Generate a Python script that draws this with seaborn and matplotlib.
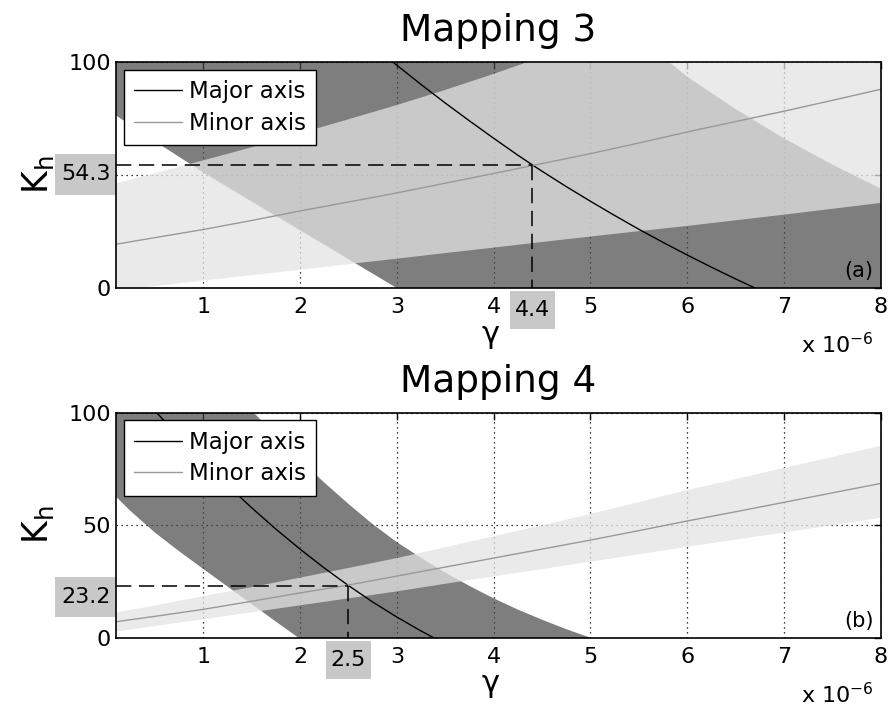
import matplotlib

matplotlib.use("Agg")

import matplotlib.pyplot as plt
import matplotlib.transforms as mtransforms
import seaborn as sns
from matplotlib.patches import Rectangle


# gamma axis, in units of 1e-6
GAMMA = [0.1, 0.5, 1, 1.5, 2, 2.5, 3, 3.5, 4, 4.5, 5, 5.5, 6, 6.5, 7, 7.5, 8]

# Mapping 3 bands
M3_MINOR_MID = [19.4, 22.3, 25.9, 29.9, 34.1, 38.1, 42.1, 46.4, 50.7, 55.1, 59.5, 64.2, 69.1, 73.7, 78.3, 83.1, 88.0]
M3_MINOR_HI = [46.3, 50.8, 56.5, 62.3, 68.5, 74.7, 81.0, 87.7, 94.8, 102.3, 110, 118, 126, 134.5, 143, 152, 161]
M3_MINOR_LO = [-1.2, 0.8, 3.3, 5.7, 8.1, 10.6, 13.0, 15.5, 17.9, 20.4, 22.8, 25.2, 27.5, 30.0, 32.5, 35.1, 37.7]
M3_MAJOR_HI_X = GAMMA
M3_MAJOR_HI = [450, 408, 362, 322, 285, 252, 222, 195, 170, 148, 129, 111, 93.5, 79.2, 66.2, 54.6, 44.0]
M3_MAJOR_LO_X = GAMMA
M3_MAJOR_LO = [76.4, 65.0, 51.2, 38.3, 25.6, 12.8, 0.0, -12.8, -25.6, -38.4, -51.2, -64, -76.8, -89.6, -102.4, -115.2, -128]
M3_MAJOR_X = [2.96, 3.25, 3.5, 3.75, 4, 4.25, 4.4, 4.5, 4.75, 5, 5.25, 5.5, 5.75, 6, 6.25, 6.5, 6.7]
M3_MAJOR_MID = [100, 90.1, 81.9, 74.0, 66.3, 58.8, 54.5, 51.7, 44.9, 38.4, 32.1, 26.0, 20.2, 14.6, 9.2, 4.0, 0]
M3_MARK = (4.4, 54.3)

# Mapping 4 bands
M4_MINOR_MID = [7.1, 9.5, 12.6, 16.2, 19.9, 23.4, 27.4, 31.4, 35.4, 39.4, 43.4, 47.6, 51.9, 56.0, 60.2, 64.4, 68.6]
M4_MINOR_HI = [11.3, 14.3, 18.5, 22.5, 26.7, 31.0, 35.4, 40.2, 45.1, 50.0, 55.0, 60.3, 65.6, 70.5, 75.5, 80.4, 85.3]
M4_MINOR_LO = [2.7, 5.2, 8.2, 11.3, 14.4, 17.5, 20.6, 24.0, 27.3, 30.5, 33.8, 37.1, 40.4, 43.6, 46.8, 50.0, 53.3]
M4_MAJOR_HI_X = [0.1, 0.5, 1, 1.25, 1.5, 1.75, 2, 2.25, 2.5, 2.75, 3, 3.25, 3.5, 3.75, 4, 4.25, 4.5, 4.75, 5, 8]
M4_MAJOR_HI = [175, 152, 125, 113, 101, 90, 79, 69, 59.5, 50.5, 42.5, 35.5, 29, 23, 17.5, 12.5, 8, 3.8, 0, -37]
M4_MAJOR_LO_X = [0.1, 0.25, 0.5, 0.75, 1, 1.25, 1.5, 1.75, 2, 8]
M4_MAJOR_LO = [62.7, 56.3, 46.8, 38.5, 30.6, 22.8, 15.0, 7.2, -0.5, -193]
M4_MAJOR_X = [0.52, 0.75, 1, 1.25, 1.5, 1.75, 2, 2.25, 2.5, 2.75, 3, 3.25, 3.38]
M4_MAJOR_MID = [100, 89.4, 78.3, 67.8, 57.8, 48.3, 39.4, 31.0, 23.2, 15.9, 9.2, 3.0, 0]
M4_MARK = (2.5, 23.2)

X_TICKS = [1, 2, 3, 4, 5, 6, 7, 8]
Y_TICKS = [0, 50, 100]

sns.set_theme(style="white")
plt.rcParams["font.family"] = ["DejaVu Sans"]
plt.rcParams["mathtext.default"] = "regular"
plt.rcParams["text.color"] = "black"
plt.rcParams["axes.labelcolor"] = "black"

BOX_GREY = "#c8c8c8"


def draw_panel(ax, minor_mid, minor_hi, minor_lo, major_hi_x, major_hi, major_lo_x, major_lo,
               major_x, major_mid, mark, y_label_pos, y_labels, title, tag):
    ax.set_axisbelow(True)
    ax.grid(True, color="black", linestyle=(0, (1, 3)), linewidth=0.9)

    # major band first, minor band laid over it (the overlap turns mid grey)
    ax.fill(major_hi_x + major_lo_x[::-1], major_hi + major_lo[::-1],
            color="#484848", alpha=0.7, lw=0)
    ax.fill(GAMMA + GAMMA[::-1], minor_hi + minor_lo[::-1], color="#e4e4e4", alpha=0.745, lw=0)

    sns.lineplot(x=major_x, y=major_mid, color="black", linewidth=1.0, label="Major axis", ax=ax)
    sns.lineplot(x=GAMMA, y=minor_mid, color="#999999", linewidth=1.0, label="Minor axis", ax=ax)

    mx, my = mark
    ax.plot([GAMMA[0], mx], [my, my], color="black", linewidth=1.1, dashes=(10, 5))
    ax.plot([mx, mx], [my, 0], color="black", linewidth=1.1, dashes=(10, 5))

    ax.set_xlim(0.1, 8)
    ax.set_ylim(0, 100)
    ax.set_xticks(X_TICKS)
    ax.set_xticklabels([str(t) for t in X_TICKS])
    ax.set_yticks(Y_TICKS)
    ax.set_yticklabels(y_labels)
    ax.tick_params(direction="in", top=True, right=True, length=5, width=1,
                   labelsize=16, colors="black")
    ax.tick_params(axis="x", pad=6.5)
    ax.tick_params(axis="y", pad=3.6)
    for spine in ax.spines.values():
        spine.set_color("black")
        spine.set_linewidth(1.2)

    # grey value boxes beside the axes
    ax_y = mtransforms.blended_transform_factory(ax.transAxes, ax.transData)
    ax.add_patch(Rectangle((-0.0797, y_label_pos - 8.9), 0.0797, 17.8, transform=ax_y,
                           facecolor=BOX_GREY, edgecolor="none", clip_on=False))
    ax.text(-0.007, y_label_pos, f"{my:.1f}", transform=ax_y, ha="right", va="center",
            fontsize=16)
    x_ax = mtransforms.blended_transform_factory(ax.transData, ax.transAxes)
    ax.add_patch(Rectangle((mx - 0.232, -0.183), 0.464, 0.17, transform=x_ax,
                           facecolor=BOX_GREY, edgecolor="none", clip_on=False))
    ax.text(mx, -0.098, f"{mx:.1f}", transform=x_ax, ha="center", va="center", fontsize=16)

    ax.text(0.99, 0.03, tag, transform=ax.transAxes, ha="right", va="bottom", fontsize=15)
    ax.text(0.991, -0.289, "x 10$^{-6}$", transform=ax.transAxes, ha="right",
            va="baseline", fontsize=16)

    ax.set_title(title, fontsize=27, pad=15)
    ax.set_xlabel("γ", fontsize=22)
    ax.xaxis.set_label_coords(0.49, -0.14)
    ax.set_ylabel("K$_h$", fontsize=25)
    ax.yaxis.set_label_coords(-0.078, 0.5)

    legend = ax.legend(loc="upper left", fontsize=16.5, frameon=True, fancybox=False,
                       edgecolor="black", framealpha=1, borderaxespad=0.33, borderpad=0.45,
                       handlelength=2.1, handletextpad=0.3, labelspacing=0.38)
    legend.get_frame().set_linewidth(1.0)


fig = plt.figure(figsize=(8.89, 7.06), dpi=100)
ax_top = fig.add_axes([0.1305, 0.592, 0.8605, 0.320])
ax_bottom = fig.add_axes([0.1305, 0.0967, 0.8605, 0.3187])

draw_panel(ax_top, M3_MINOR_MID, M3_MINOR_HI, M3_MINOR_LO, M3_MAJOR_HI_X, M3_MAJOR_HI,
           M3_MAJOR_LO_X, M3_MAJOR_LO, M3_MAJOR_X, M3_MAJOR_MID, M3_MARK, 50.3,
           ["0", "", "100"], "Mapping 3", "(a)")
draw_panel(ax_bottom, M4_MINOR_MID, M4_MINOR_HI, M4_MINOR_LO, M4_MAJOR_HI_X, M4_MAJOR_HI,
           M4_MAJOR_LO_X, M4_MAJOR_LO, M4_MAJOR_X, M4_MAJOR_MID, M4_MARK, 17.9,
           ["0", "50", "100"], "Mapping 4", "(b)")

fig.savefig("out.png", dpi=100)
